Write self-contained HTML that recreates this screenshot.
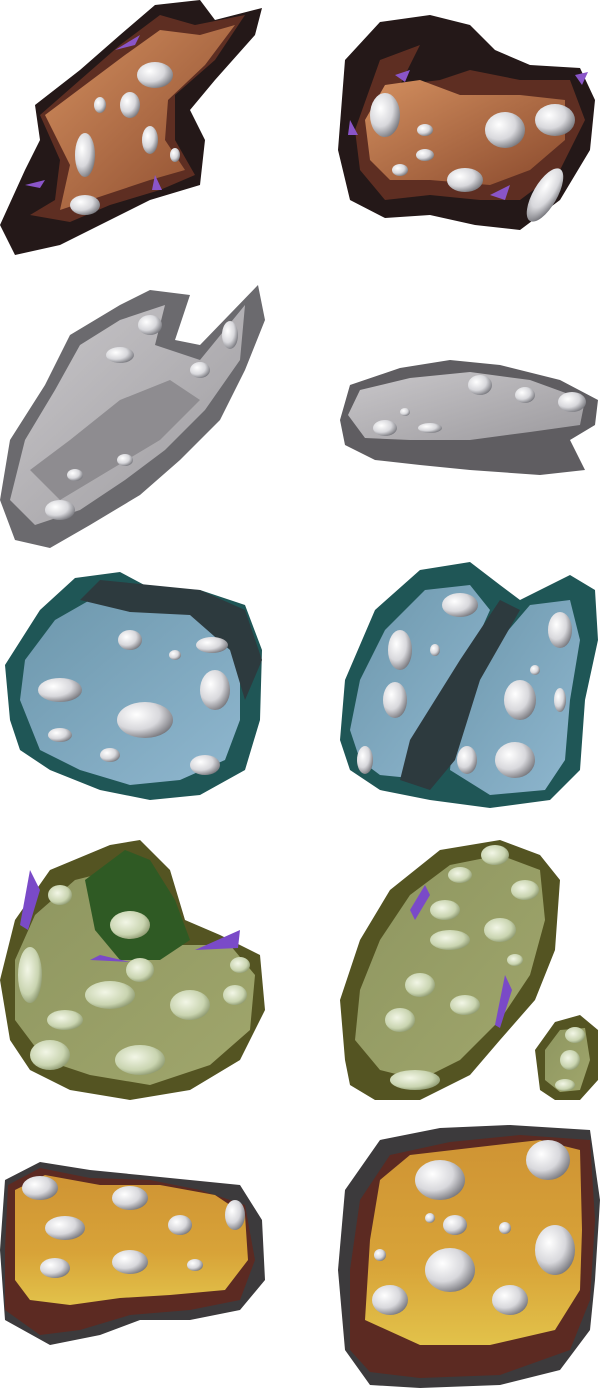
<!DOCTYPE html>
<html><head><meta charset="utf-8"><style>
html,body{margin:0;padding:0;background:#fff;width:600px;height:1388px;overflow:hidden}
svg{display:block}
</style></head><body>
<svg width="600" height="1388" viewBox="0 0 600 1388">
<defs>
<radialGradient id="cr" cx="0.35" cy="0.35" r="0.75"><stop offset="0" stop-color="#fff"/><stop offset="0.55" stop-color="#d8d8dc"/><stop offset="1" stop-color="#6a6a70"/></radialGradient>
<radialGradient id="crg" cx="0.4" cy="0.4" r="0.75"><stop offset="0" stop-color="#f2f6e6"/><stop offset="0.6" stop-color="#c9d4b0"/><stop offset="1" stop-color="#6e7a4e"/></radialGradient>
<linearGradient id="brn" x1="0" y1="0" x2="1" y2="1"><stop offset="0" stop-color="#d38f5f"/><stop offset="1" stop-color="#8a4a2d"/></linearGradient>
<linearGradient id="gry" x1="0" y1="0" x2="1" y2="1"><stop offset="0" stop-color="#c9c7ca"/><stop offset="1" stop-color="#9c9a9e"/></linearGradient>
<linearGradient id="blu" x1="0" y1="0" x2="1" y2="1"><stop offset="0" stop-color="#6d97ac"/><stop offset="1" stop-color="#8fb7cf"/></linearGradient>
<linearGradient id="grn" x1="0" y1="0" x2="1" y2="1"><stop offset="0" stop-color="#8e9660"/><stop offset="1" stop-color="#a0a66c"/></linearGradient>
<linearGradient id="yel" x1="0" y1="0" x2="0" y2="1"><stop offset="0" stop-color="#cf9434"/><stop offset="0.6" stop-color="#d8a338"/><stop offset="1" stop-color="#e2c24a"/></linearGradient>
</defs>

<!-- Row 1 brown -->
<g>
<path d="M15 255 L0 225 L25 170 L40 140 L35 105 L80 70 L120 35 L155 5 L200 0 L215 20 L262 8 L255 35 L215 80 L190 110 L205 140 L200 185 L150 200 L110 220 L60 245 Z" fill="#241818"/>
<path d="M30 215 L55 200 L60 160 L40 115 L80 80 L120 45 L160 15 L195 25 L245 15 L215 60 L175 95 L175 140 L195 175 L160 190 L110 205 L70 222 Z" fill="#5e2e22"/>
<path d="M60 210 L70 165 L45 115 L85 85 L125 55 L160 30 L200 35 L235 25 L205 65 L168 100 L165 140 L185 170 L150 180 L105 195 Z" fill="url(#brn)"/>
<g fill="url(#cr)"><ellipse cx="155" cy="75" rx="18" ry="13"/><ellipse cx="130" cy="105" rx="10" ry="13"/><ellipse cx="85" cy="155" rx="10" ry="22"/><ellipse cx="150" cy="140" rx="8" ry="14"/><ellipse cx="100" cy="105" rx="6" ry="8"/><ellipse cx="85" cy="205" rx="15" ry="10"/><ellipse cx="175" cy="155" rx="5" ry="7"/></g>
<g fill="#8a55c8"><path d="M115 50 L140 35 L135 45Z"/><path d="M25 185 L45 180 L40 188Z"/><path d="M155 175 L162 190 L152 190Z"/></g>
</g>
<g>
<path d="M345 60 L380 22 L430 15 L470 25 L495 50 L530 65 L580 68 L595 100 L590 150 L560 200 L520 230 L475 225 L430 215 L385 218 L350 200 L338 150 Z" fill="#241818"/>
<path d="M355 130 L380 60 L420 45 L400 85 L440 80 L470 70 L520 80 L570 80 L585 120 L560 170 L520 200 L480 200 L430 195 L385 200 L360 170 Z" fill="#5e2e22"/>
<path d="M365 120 L385 85 L420 80 L460 95 L520 95 L565 100 L565 140 L530 170 L490 185 L430 180 L390 180 L370 160 Z" fill="url(#brn)"/>
<g fill="url(#cr)"><ellipse cx="385" cy="115" rx="15" ry="22"/><ellipse cx="505" cy="130" rx="20" ry="18"/><ellipse cx="555" cy="120" rx="20" ry="16"/><ellipse cx="465" cy="180" rx="18" ry="12"/><ellipse cx="425" cy="130" rx="8" ry="6"/><ellipse cx="425" cy="155" rx="9" ry="6"/><ellipse cx="400" cy="170" rx="8" ry="6"/><ellipse cx="545" cy="195" rx="12" ry="30" transform="rotate(30 545 195)"/></g>
<g fill="#8a55c8"><path d="M395 75 L410 70 L405 82Z"/><path d="M350 120 L358 135 L348 135Z"/><path d="M490 195 L510 185 L505 200Z"/><path d="M575 75 L588 72 L582 85Z"/></g>
</g>

<!-- Row 2 gray -->
<g>
<path d="M15 540 L0 500 L10 440 L45 385 L70 335 L120 305 L150 290 L190 295 L175 340 L200 345 L258 285 L265 320 L245 370 L220 420 L180 460 L140 495 L90 525 L50 548 Z" fill="#6b6a6e"/>
<path d="M10 500 L25 440 L55 390 L80 345 L120 320 L165 305 L155 345 L200 360 L245 305 L240 360 L205 410 L165 450 L125 480 L80 510 L35 525 Z" fill="url(#gry)"/>
<path d="M30 470 L70 440 L120 400 L170 380 L200 400 L160 440 L110 470 L60 500 Z" fill="#8e8c90"/>
<g fill="url(#cr)"><ellipse cx="150" cy="325" rx="12" ry="10"/><ellipse cx="120" cy="355" rx="14" ry="8"/><ellipse cx="230" cy="335" rx="8" ry="14"/><ellipse cx="200" cy="370" rx="10" ry="8"/><ellipse cx="75" cy="475" rx="8" ry="6"/><ellipse cx="60" cy="510" rx="15" ry="10"/><ellipse cx="125" cy="460" rx="8" ry="6"/></g>
</g>
<g>
<path d="M340 420 L350 385 L400 368 L450 360 L500 365 L560 380 L598 400 L595 425 L570 440 L585 470 L540 475 L470 470 L420 465 L375 460 L345 445 Z" fill="#5f5d61"/>
<path d="M348 415 L360 390 L410 378 L470 372 L530 380 L585 400 L580 425 L530 432 L470 440 L410 440 L365 438 Z" fill="url(#gry)"/>
<g fill="url(#cr)"><ellipse cx="480" cy="385" rx="12" ry="10"/><ellipse cx="525" cy="395" rx="10" ry="8"/><ellipse cx="572" cy="402" rx="14" ry="10"/><ellipse cx="385" cy="428" rx="12" ry="8"/><ellipse cx="405" cy="412" rx="5" ry="4"/><ellipse cx="430" cy="428" rx="12" ry="5"/></g>
</g>

<!-- Row 3 blue -->
<g>
<path d="M10 720 L5 665 L40 610 L75 578 L120 572 L150 588 L200 590 L245 605 L262 650 L260 720 L245 770 L200 795 L150 800 L100 790 L50 770 L20 750 Z" fill="#1f5656"/>
<path d="M20 700 L25 660 L55 620 L90 600 L120 605 L130 612 L180 605 L215 625 L240 660 L240 720 L225 760 L180 780 L130 785 L80 770 L40 750 Z" fill="url(#blu)"/>
<path d="M80 600 L100 580 L150 585 L200 590 L245 610 L262 660 L245 700 L230 650 L190 615 L130 612 Z" fill="#2d3a3e"/>
<g fill="url(#cr)"><ellipse cx="130" cy="640" rx="12" ry="10"/><ellipse cx="60" cy="690" rx="22" ry="12"/><ellipse cx="145" cy="720" rx="28" ry="18"/><ellipse cx="215" cy="690" rx="15" ry="20"/><ellipse cx="205" cy="765" rx="15" ry="10"/><ellipse cx="110" cy="755" rx="10" ry="7"/><ellipse cx="60" cy="735" rx="12" ry="7"/><ellipse cx="175" cy="655" rx="6" ry="5"/><ellipse cx="212" cy="645" rx="16" ry="8"/></g>
</g>
<g>
<path d="M340 740 L345 680 L375 610 L420 570 L470 562 L500 585 L520 600 L570 575 L595 590 L598 640 L585 700 L580 770 L550 800 L490 808 L430 800 L380 790 L350 770 Z" fill="#1f5656"/>
<path d="M350 730 L360 680 L385 630 L425 590 L470 585 L490 610 L450 700 L430 780 L380 775 L360 760 Z" fill="url(#blu)"/>
<path d="M455 720 L500 640 L530 605 L570 600 L580 640 L570 700 L565 760 L545 790 L490 795 L450 770 Z" fill="url(#blu)"/>
<path d="M410 740 L460 660 L500 600 L520 610 L480 680 L455 760 L430 790 L400 780 Z" fill="#2d3a3e"/>
<g fill="url(#cr)"><ellipse cx="460" cy="605" rx="18" ry="12"/><ellipse cx="400" cy="650" rx="12" ry="20"/><ellipse cx="395" cy="700" rx="12" ry="18"/><ellipse cx="365" cy="760" rx="8" ry="14"/><ellipse cx="560" cy="630" rx="12" ry="18"/><ellipse cx="520" cy="700" rx="16" ry="20"/><ellipse cx="515" cy="760" rx="20" ry="18"/><ellipse cx="560" cy="700" rx="6" ry="12"/><ellipse cx="467" cy="760" rx="10" ry="14"/><ellipse cx="435" cy="650" rx="5" ry="6"/><ellipse cx="535" cy="670" rx="5" ry="5"/></g>
</g>

<!-- Row 4 green -->
<g>
<path d="M10 1040 L0 980 L15 920 L50 870 L110 845 L140 840 L170 870 L185 920 L220 935 L260 955 L265 1010 L240 1060 L190 1090 L130 1100 L70 1090 L30 1070 Z" fill="#545422"/>
<path d="M15 1020 L15 960 L35 915 L75 880 L115 870 L95 930 L130 960 L180 945 L230 945 L255 975 L250 1030 L210 1065 L150 1085 L90 1075 L45 1060 Z" fill="url(#grn)"/>
<path d="M85 880 L125 850 L150 860 L175 900 L190 940 L160 960 L120 960 L95 930 Z" fill="#2f5a24"/>
<g fill="url(#crg)"><ellipse cx="130" cy="925" rx="20" ry="14"/><ellipse cx="30" cy="975" rx="12" ry="28"/><ellipse cx="60" cy="895" rx="12" ry="10"/><ellipse cx="140" cy="970" rx="14" ry="12"/><ellipse cx="110" cy="995" rx="25" ry="14"/><ellipse cx="190" cy="1005" rx="20" ry="15"/><ellipse cx="235" cy="995" rx="12" ry="10"/><ellipse cx="240" cy="965" rx="10" ry="8"/><ellipse cx="50" cy="1055" rx="20" ry="15"/><ellipse cx="140" cy="1060" rx="25" ry="15"/><ellipse cx="65" cy="1020" rx="18" ry="10"/></g>
<g fill="#7a4ac8"><path d="M20 925 L30 870 L40 890 L28 930Z"/><path d="M90 960 L130 962 L100 955Z"/><path d="M195 950 L240 930 L238 948Z"/></g>
</g>
<g>
<path d="M345 1060 L340 1000 L360 940 L390 890 L440 850 L500 840 L540 855 L560 880 L555 950 L535 1000 L500 1040 L470 1075 L420 1100 L375 1100 L350 1085 Z" fill="#545422"/>
<path d="M355 1040 L360 990 L380 940 L410 895 L450 865 L500 855 L540 870 L545 920 L530 975 L500 1020 L460 1060 L420 1080 L380 1070 Z" fill="url(#grn)"/>
<g fill="url(#crg)"><ellipse cx="495" cy="855" rx="14" ry="10"/><ellipse cx="460" cy="875" rx="12" ry="8"/><ellipse cx="525" cy="890" rx="14" ry="10"/><ellipse cx="445" cy="910" rx="15" ry="10"/><ellipse cx="500" cy="930" rx="16" ry="12"/><ellipse cx="450" cy="940" rx="20" ry="10"/><ellipse cx="420" cy="985" rx="15" ry="12"/><ellipse cx="465" cy="1005" rx="15" ry="10"/><ellipse cx="400" cy="1020" rx="15" ry="12"/><ellipse cx="415" cy="1080" rx="25" ry="10"/><ellipse cx="515" cy="960" rx="8" ry="6"/></g>
<g fill="#7a4ac8"><path d="M410 910 L425 885 L430 895 L415 920Z"/><path d="M495 1025 L505 975 L512 990 L500 1028Z"/></g>
</g>
<g>
<path d="M540 1090 L535 1050 L555 1022 L580 1015 L598 1030 L598 1080 L580 1100 L555 1100 Z" fill="#545422"/>
<path d="M545 1080 L545 1050 L560 1030 L585 1028 L590 1060 L580 1090 L560 1092 Z" fill="url(#grn)"/>
<g fill="url(#crg)"><ellipse cx="575" cy="1035" rx="10" ry="8"/><ellipse cx="570" cy="1060" rx="10" ry="10"/><ellipse cx="565" cy="1085" rx="10" ry="6"/></g>
</g>

<!-- Row 5 yellow -->
<g>
<path d="M5 1320 L0 1250 L5 1180 L40 1162 L90 1170 L140 1175 L190 1180 L240 1185 L262 1220 L265 1280 L240 1310 L190 1320 L140 1320 L100 1335 L50 1345 Z" fill="#3c3a3c"/>
<path d="M5 1310 L5 1250 L8 1185 L40 1168 L90 1178 L150 1180 L200 1190 L245 1205 L255 1260 L240 1300 L190 1310 L130 1315 L80 1330 L40 1335 Z" fill="#5c2a22"/>
<path d="M15 1280 L15 1190 L45 1175 L100 1185 L160 1185 L215 1195 L245 1215 L248 1260 L225 1290 L170 1295 L120 1298 L70 1305 L30 1300 Z" fill="url(#yel)"/>
<g fill="url(#cr)"><ellipse cx="40" cy="1188" rx="18" ry="12"/><ellipse cx="130" cy="1198" rx="18" ry="12"/><ellipse cx="65" cy="1228" rx="20" ry="12"/><ellipse cx="235" cy="1215" rx="10" ry="15"/><ellipse cx="180" cy="1225" rx="12" ry="10"/><ellipse cx="130" cy="1262" rx="18" ry="12"/><ellipse cx="55" cy="1268" rx="15" ry="10"/><ellipse cx="195" cy="1265" rx="8" ry="6"/></g>
</g>
<g>
<path d="M345 1350 L338 1270 L345 1190 L380 1140 L440 1128 L510 1125 L590 1130 L600 1200 L595 1280 L590 1330 L560 1370 L500 1385 L420 1388 L370 1385 Z" fill="#3c3a3c"/>
<path d="M350 1350 L350 1270 L360 1200 L390 1155 L450 1142 L520 1135 L590 1140 L595 1220 L590 1300 L570 1350 L500 1375 L420 1378 L370 1372 Z" fill="#5c2a22"/>
<path d="M365 1320 L370 1240 L380 1180 L410 1155 L470 1148 L540 1140 L580 1150 L582 1230 L580 1290 L555 1330 L490 1345 L420 1345 Z" fill="url(#yel)"/>
<g fill="url(#cr)"><ellipse cx="440" cy="1180" rx="25" ry="20"/><ellipse cx="548" cy="1160" rx="22" ry="20"/><ellipse cx="455" cy="1225" rx="12" ry="10"/><ellipse cx="450" cy="1270" rx="25" ry="22"/><ellipse cx="510" cy="1300" rx="18" ry="15"/><ellipse cx="390" cy="1300" rx="18" ry="15"/><ellipse cx="555" cy="1250" rx="20" ry="25"/><ellipse cx="505" cy="1228" rx="6" ry="6"/><ellipse cx="430" cy="1218" rx="5" ry="5"/><ellipse cx="380" cy="1255" rx="6" ry="6"/></g>
</g>
</svg>
</body></html>
